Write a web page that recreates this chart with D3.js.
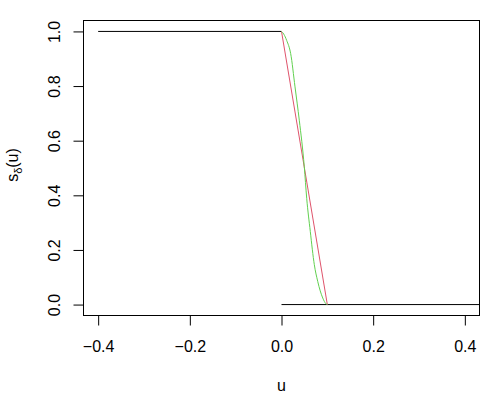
<!DOCTYPE html>
<html>
<head>
<meta charset="utf-8">
<script src="https://cdn.jsdelivr.net/npm/d3@7"></script>
<style>
body{margin:0;background:#fff;}
text{font-family:"Liberation Sans",Arial,sans-serif;font-size:16px;fill:#000;}
</style>
</head>
<body>
<script>
// step function pieces (black)
var upperU=[-0.4,0], upperS=[1,1];
var lowerU=[0,0.5], lowerS=[0,0];
// linear smoother (red)
var redU=[0,0.1], redS=[1,0];
// smooth smoother (green)
var greenU=[0,0.005,0.0113,0.02,0.0295,0.0388,0.0497,0.055,0.0628,0.0716,0.079,0.09,0.097,0.1];
var greenS=[1,0.99,0.967,0.919,0.797,0.675,0.505,0.389,0.268,0.146,0.085,0.024,0.003,0];
var xTicks=[-0.4,-0.2,0,0.2,0.4];
var yTicks=[0,0.2,0.4,0.6,0.8,1];

var svg=d3.select("body").append("svg").attr("width",500).attr("height",400);

var x=d3.scaleLinear().domain([-0.432,0.432]).range([83.5,479.5]);
var y=d3.scaleLinear().domain([-0.04,1.04]).range([315.5,20.5]);

svg.append("clipPath").attr("id","clip")
  .append("rect").attr("x",83.5).attr("y",20.5).attr("width",396).attr("height",295);

function pts(us,ss){return us.map(function(u,i){return [u,ss[i]];});}
var line=d3.line().x(function(d){return x(d[0]);}).y(function(d){return y(d[1]);});
var smooth=d3.line().curve(d3.curveMonotoneX).x(function(d){return x(d[0]);}).y(function(d){return y(d[1]);});

var g=svg.append("g").attr("clip-path","url(#clip)");
g.append("path").attr("d",line(pts(upperU,upperS))).attr("fill","none").attr("stroke","#000").attr("stroke-width",1);
g.append("path").attr("d",line(pts(lowerU,lowerS))).attr("fill","none").attr("stroke","#000").attr("stroke-width",1);
g.append("path").attr("d",line(pts(redU,redS))).attr("fill","none").attr("stroke","#DF536B").attr("stroke-width",1);
g.append("path").attr("d",smooth(pts(greenU,greenS))).attr("fill","none").attr("stroke","#61D04F").attr("stroke-width",1);

// axes, R style: line only between end ticks, labels below
var xAxis=d3.axisBottom(x).tickValues(xTicks).tickSize(10).tickPadding(15.5)
  .tickFormat(function(d){return d3.format(".1f")(d).replace("-","\u2212");});
var xa=svg.append("g").attr("transform","translate(0,315.5)").call(xAxis);
xa.select(".domain").attr("d","M"+x(-0.4)+",0H"+x(0.4));

var yAxis=d3.axisLeft(y).tickValues(yTicks).tickSize(10).tickFormat(d3.format(".1f"));
var ya=svg.append("g").attr("transform","translate(83.5,0)").call(yAxis);
ya.select(".domain").attr("d","M0,"+y(0)+"V"+y(1));
ya.selectAll(".tick text").attr("x",0).attr("dy",0)
  .attr("transform","translate(-24,0) rotate(-90)").attr("text-anchor","middle");

svg.selectAll(".tick text").style("font-size","16px").style("font-family","Liberation Sans, Arial, sans-serif");
svg.selectAll(".tick line,.domain").attr("stroke","#000");

// box
svg.append("rect").attr("x",83.5).attr("y",20.5).attr("width",396).attr("height",295)
  .attr("fill","none").attr("stroke","#000").attr("stroke-width",1);

svg.append("text").attr("x",x(0)).attr("y",391).attr("text-anchor","middle").text("u");
var yl=svg.append("text").attr("transform","translate(18,165) rotate(-90)").attr("text-anchor","middle");
yl.append("tspan").text("s");
yl.append("tspan").attr("dy",4).style("font-size","11px").text("\u03b4");
yl.append("tspan").attr("dy",-4).text("(u)");
</script>
</body>
</html>
